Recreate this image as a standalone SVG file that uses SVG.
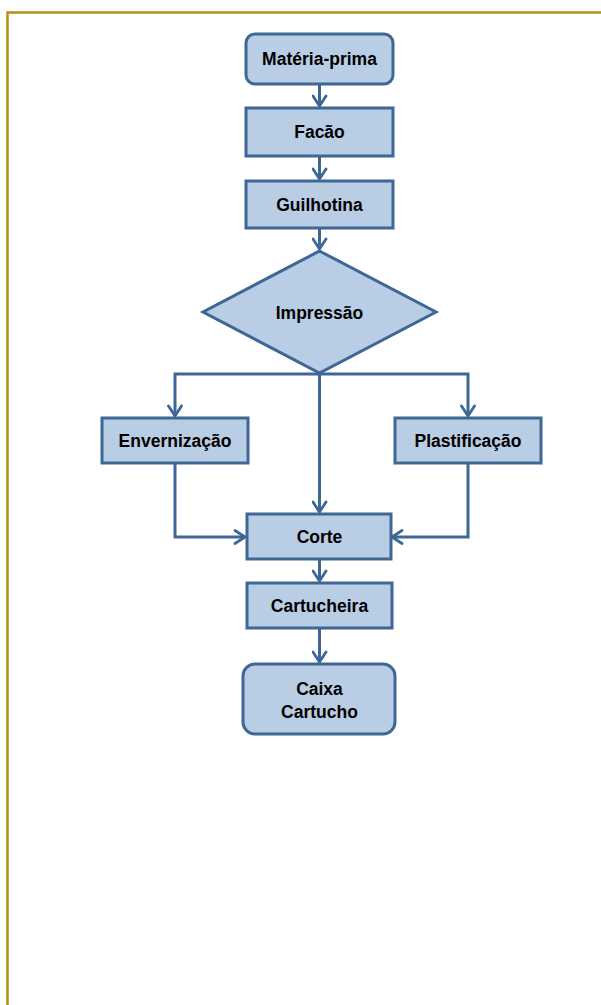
<svg xmlns="http://www.w3.org/2000/svg" width="601" height="1005" viewBox="0 0 601 1005">
  <defs>
    <marker id="arrow" viewBox="0 0 14 16" refX="12" refY="8" markerWidth="14" markerHeight="16" markerUnits="userSpaceOnUse" orient="auto">
      <path d="M2,1.5 L12,8 L2,14.5" fill="none" stroke="#3F6796" stroke-width="2.8" stroke-linecap="round" stroke-linejoin="round"/>
    </marker>
  </defs>
  <style>
    .box { fill: #B9CDE5; stroke: #3F6796; stroke-width: 3; }
    .lbl { font-family: "Liberation Sans", Arial, sans-serif; font-weight: bold; font-size: 17.5px; fill: #000; text-anchor: middle; }
    .edge { fill: none; stroke: #3F6796; stroke-width: 3; marker-end: url(#arrow); }
    .frame { fill: none; stroke: #B8900A; stroke-width: 2.5; }
  </style>

  <rect width="601" height="1005" fill="#FFFFFF"/>
  <path class="frame" d="M7.5,1005 V12.5 H601"/>

  <g id="connectors">
    <path class="edge" d="M319.5,84 V106"/>
    <path class="edge" d="M319.5,156 V179"/>
    <path class="edge" d="M319.5,228 V249"/>
    <path class="edge" d="M319.5,374 H175 V416"/>
    <path class="edge" d="M319.5,374 H468 V416"/>
    <path class="edge" d="M319.5,374 V512"/>
    <path class="edge" d="M175,463 V537 H245"/>
    <path class="edge" d="M468,463 V537 H392"/>
    <path class="edge" d="M319.5,559 V581"/>
    <path class="edge" d="M319.5,628 V662"/>
  </g>

  <g id="materia-prima">
    <rect class="box" x="246" y="34" width="147" height="50" rx="9"/>
    <text class="lbl" x="319.5" y="65">Matéria-prima</text>
  </g>
  <g id="facao">
    <rect class="box" x="246" y="108" width="147" height="48"/>
    <text class="lbl" x="319.5" y="138">Facão</text>
  </g>
  <g id="guilhotina">
    <rect class="box" x="246" y="181" width="147" height="47"/>
    <text class="lbl" x="319.5" y="210.5">Guilhotina</text>
  </g>
  <g id="impressao">
    <polygon class="box" points="319.5,251 436,312 319.5,373 203,312"/>
    <text class="lbl" x="319.5" y="318.5">Impressão</text>
  </g>
  <g id="envernizacao">
    <rect class="box" x="102" y="418" width="146" height="45"/>
    <text class="lbl" x="175" y="446.5">Envernização</text>
  </g>
  <g id="plastificacao">
    <rect class="box" x="395" y="418" width="146" height="45"/>
    <text class="lbl" x="468" y="446.5">Plastificação</text>
  </g>
  <g id="corte">
    <rect class="box" x="247" y="514" width="144" height="45"/>
    <text class="lbl" x="319.5" y="542.5">Corte</text>
  </g>
  <g id="cartucheira">
    <rect class="box" x="247" y="583" width="145" height="45"/>
    <text class="lbl" x="319.5" y="611.5">Cartucheira</text>
  </g>
  <g id="caixa-cartucho">
    <rect class="box" x="243" y="664" width="152" height="70" rx="12"/>
    <text class="lbl" x="319.5" y="694.5">Caixa</text>
    <text class="lbl" x="319.5" y="717.5">Cartucho</text>
  </g>
</svg>
